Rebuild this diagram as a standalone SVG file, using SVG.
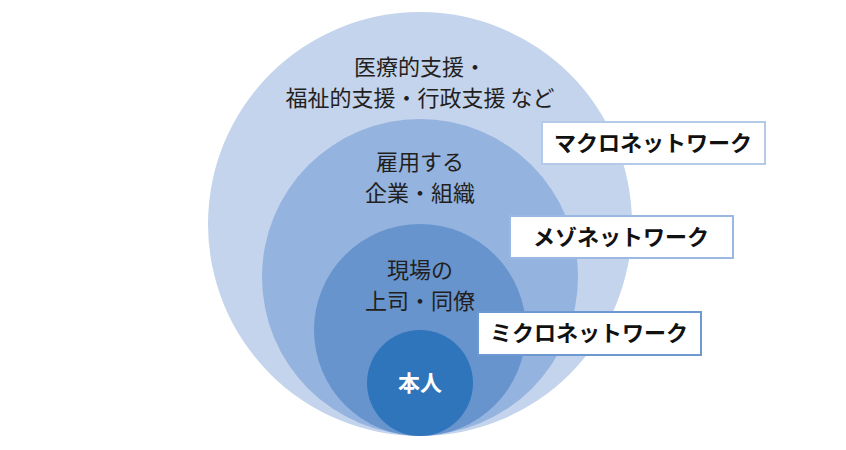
<svg xmlns="http://www.w3.org/2000/svg" width="846" height="450" viewBox="0 0 846 450">
<style>
.t{font-family:"Noto Sans CJK JP","Noto Sans",sans-serif;font-size:22px;fill:#231f20;text-anchor:middle}
.b{font-family:"Noto Sans CJK JP","Noto Sans",sans-serif;font-size:22px;font-weight:bold;fill:#111;text-anchor:middle}
.box{fill:#fff;stroke-width:2}
</style>
<rect width="846" height="450" fill="#fff"/>
<g id="macro-circle"><circle cx="420" cy="224" r="212" fill="#c3d4ec"/>
<text class="t" x="420" y="75">医療的支援・</text><text class="t" x="420" y="106">福祉的支援・行政支援 など</text></g>
<g id="meso-circle"><circle cx="420" cy="277" r="158" fill="#94b3df"/>
<text class="t" x="420" y="170">雇用する</text><text class="t" x="420" y="201">企業・組織</text></g>
<g id="micro-circle"><circle cx="420" cy="330" r="106" fill="#6794cd"/>
<text class="t" x="420" y="278">現場の</text><text class="t" x="420" y="309">上司・同僚</text></g>
<g id="self"><circle cx="420" cy="383" r="53" fill="#2e75bc"/>
<text class="b" x="420" y="391" style="fill:#fff">本人</text></g>
<g id="macro-label"><rect class="box" x="542" y="122" width="223" height="42" stroke="#b4cae9"/><text class="b" x="653" y="151">マクロネットワーク</text></g>
<g id="meso-label"><rect class="box" x="510" y="216" width="223" height="42" stroke="#9ab8e2"/><text class="b" x="621" y="245">メゾネットワーク</text></g>
<g id="micro-label"><rect class="box" x="478" y="312" width="223" height="43" stroke="#6e98d0"/><text class="b" x="589" y="341">ミクロネットワーク</text></g>
<g id="connectors"/>
</svg>
